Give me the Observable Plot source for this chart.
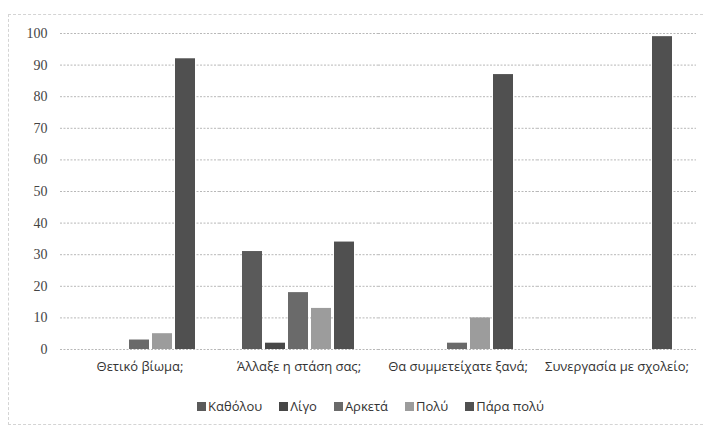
<!DOCTYPE html>
<html><head><meta charset="utf-8">
<script src="https://cdn.jsdelivr.net/npm/d3@7"></script>
<script src="https://cdn.jsdelivr.net/npm/@observablehq/plot@0.6"></script>
<style>
body{margin:0;background:#fff;width:705px;height:432px;overflow:hidden;position:relative;font-family:"Open Sans",sans-serif}
#frame{position:absolute;left:8px;top:14px;width:700px;height:411px;border:1px dashed #d4d4d4;border-right:none;box-sizing:border-box}
#chart{position:absolute;left:0;top:0}
#legend{position:absolute;left:18px;top:397px;width:705px;display:flex;justify-content:center}
#legend .lg-swatches{justify-content:center;font-family:"Open Sans",sans-serif;font-size:13px;color:#333;margin:0 !important;min-height:0 !important}
#legend .lg-swatch{margin-right:17px !important}
#legend .lg-swatch:last-child{margin-right:0 !important}
#legend .lg-swatch > svg{margin-right:2px !important}
</style>
</head><body>
<div id="frame"></div>
<div id="chart"></div>
<div id="legend"></div>
<script>
const categories = ["Θετικό βίωμα;", "Άλλαξε η στάση σας;", "Θα συμμετείχατε ξανά;", "Συνεργασία με σχολείο;"];
const series = ["Καθόλου", "Λίγο", "Αρκετά", "Πολύ", "Πάρα πολύ"];
const kathólou = [0, 31, 0, 0];
const ligo = [0, 2, 0, 0];
const arketa = [3, 18, 2, 0];
const poly = [5, 13, 10, 0];
const paraPoly = [92, 34, 87, 99];
const seriesValues = [kathólou, ligo, arketa, poly, paraPoly];
const colors = ["#5a5a5a", "#474747", "#6a6a6a", "#9c9c9c", "#505050"];
const yTicks = [0, 10, 20, 30, 40, 50, 60, 70, 80, 90, 100];

const data = categories.flatMap((c, i) => series.map((s, j) => ({category: c, series: s, value: seriesValues[j][i]})));

const plot = Plot.plot({
  width: 705, height: 390,
  marginLeft: 58, marginRight: 8, marginTop: 33, marginBottom: 41,
  style: {fontFamily: "Open Sans", fontSize: "13px", color: "#333", background: "transparent"},
  fx: {domain: categories, padding: 0, label: null},
  x: {domain: series, axis: null, paddingInner: 0.11, paddingOuter: 0.88},
  y: {domain: [0, 100], label: null},
  color: {domain: series, range: colors},
  marks: [
    Plot.gridY(yTicks, {stroke: "#b8b8b8", strokeOpacity: 1, strokeDasharray: "2,1.5"}),
    Plot.axisY(yTicks, {tickSize: 0, tickPadding: 13, fontFamily: "Liberation Serif", fontSize: 14, fill: "#444", label: null}),
    Plot.barY(data, {fx: "category", x: "series", y: "value", fill: "series"}),
    Plot.axisFx({anchor: "bottom", tickSize: 0, tickPadding: 12, fontSize: 13, fill: "#333", label: null})
  ]
});
document.getElementById("chart").appendChild(plot);
const lg = plot.legend("color", {swatchSize: 9, className: "lg"});
document.getElementById("legend").appendChild(lg);
</script>
</body></html>
